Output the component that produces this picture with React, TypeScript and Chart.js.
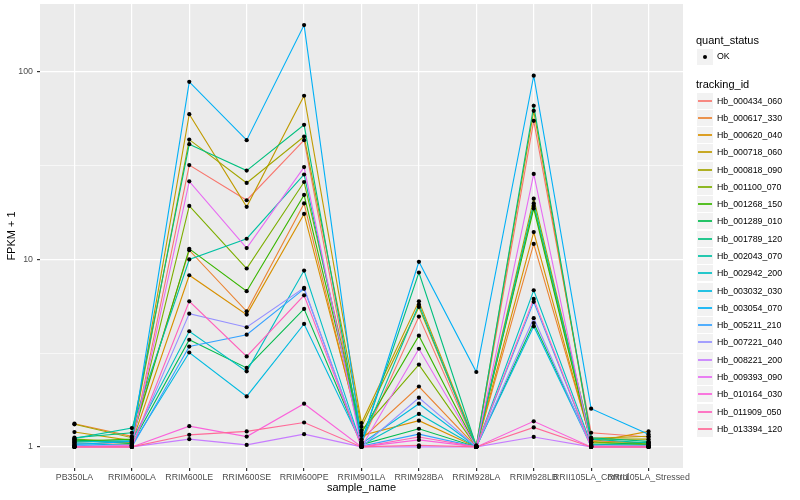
import React, { useEffect, useRef } from "react";
import { Chart, registerables } from "chart.js";
Chart.register(...registerables);

const FONT = "'Liberation Sans', Arial, Helvetica, sans-serif";

const categories = [
  "PB350LA", "RRIM600LA", "RRIM600LE", "RRIM600SE", "RRIM600PE", "RRIM901LA",
  "RRIM928BA", "RRIM928LA", "RRIM928LB", "RRII105LA_Control", "RRII105LA_Stressed",
];

const trackingIds = [
  "Hb_000434_060", "Hb_000617_330", "Hb_000620_040", "Hb_000718_060", "Hb_000818_090",
  "Hb_001100_070", "Hb_001268_150", "Hb_001289_010", "Hb_001789_120", "Hb_002043_070",
  "Hb_002942_200", "Hb_003032_030", "Hb_003054_070", "Hb_005211_210", "Hb_007221_040",
  "Hb_008221_200", "Hb_009393_090", "Hb_010164_030", "Hb_011909_050", "Hb_013394_120",
];

const s000434_060 = [1.05, 1.03, 31.9, 20.7, 43.3, 1.05, 4.96, 1.0, 54.9, 1.19, 1.13];
const s000617_330 = [1.33, 1.14, 11.2, 5.29, 19.9, 1.1, 2.1, 1.0, 12.1, 1.08, 1.05];
const s000620_040 = [1.08, 1.05, 8.24, 5.08, 17.5, 1.15, 1.38, 1.0, 14.0, 1.06, 1.21];
const s000718_060 = [1.2, 1.08, 59.6, 19.1, 74.7, 1.34, 5.98, 1.02, 62.1, 1.11, 1.14];
const s000818_090 = [1.32, 1.12, 43.6, 25.6, 45.3, 1.28, 5.58, 1.01, 21.1, 1.1, 1.1];
const s001100_070 = [1.1, 1.06, 19.3, 8.95, 25.9, 1.22, 2.75, 1.0, 19.3, 1.06, 1.04];
const s001268_150 = [1.07, 1.1, 11.4, 6.77, 22.1, 1.19, 3.92, 1.0, 18.7, 1.04, 1.03];
const s001289_010 = [1.09, 1.04, 3.73, 2.64, 5.45, 1.03, 1.25, 1.0, 4.58, 1.02, 1.06];
const s001789_120 = [1.12, 1.19, 41.2, 29.8, 52.3, 1.07, 8.52, 1.01, 66.1, 1.12, 1.07];
const s002043_070 = [1.11, 1.26, 10.0, 12.9, 28.4, 1.06, 5.75, 1.0, 19.9, 1.1, 1.05];
const s002942_200 = [1.06, 1.08, 4.14, 2.53, 8.73, 1.02, 1.5, 1.0, 6.85, 1.03, 1.02];
const s003032_030 = [1.04, 1.02, 3.19, 1.86, 4.53, 1.04, 1.7, 1.0, 4.4, 1.01, 1.01];
const s003054_070 = [1.03, 1.07, 88.7, 43.3, 178, 1.05, 9.72, 2.51, 95.6, 1.6, 1.17];
const s005211_210 = [1.02, 1.0, 3.43, 3.97, 6.97, 1.01, 1.17, 1.0, 5.94, 1.0, 1.0];
const s007221_040 = [1.01, 1.01, 5.14, 4.35, 7.06, 1.0, 1.83, 1.0, 4.86, 1.0, 1.0];
const s008221_200 = [1.0, 1.0, 1.1, 1.025, 1.17, 1.0, 1.0, 1.0, 1.13, 1.0, 1.0];
const s009393_090 = [1.0, 1.02, 26.1, 11.5, 31.1, 1.0, 3.34, 1.0, 28.6, 1.01, 1.01];
const s010164_030 = [1.0, 1.0, 1.29, 1.135, 1.7, 1.0, 1.09, 1.0, 1.37, 1.0, 1.0];
const s011909_050 = [1.0, 1.0, 5.98, 3.04, 6.44, 1.0, 1.13, 1.0, 6.16, 1.0, 1.0];
const s013394_120 = [1.0, 1.0, 1.16, 1.21, 1.35, 1.0, 1.02, 1.0, 1.27, 1.0, 1.0];

const seriesValues = [
  s000434_060, s000617_330, s000620_040, s000718_060, s000818_090,
  s001100_070, s001268_150, s001289_010, s001789_120, s002043_070,
  s002942_200, s003032_030, s003054_070, s005211_210, s007221_040,
  s008221_200, s009393_090, s010164_030, s011909_050, s013394_120,
];

const yMajorTicks = [1, 10, 100];
const yTickLabels = ["1", "10", "100"];
const quantStatus = ["OK"];

// ggplot2 default hue palette: hcl(h, c = 100, l = 65)
function hcl(h: number, c: number, l: number): string {
  const hr = (h * Math.PI) / 180;
  const U = c * Math.cos(hr);
  const V = c * Math.sin(hr);
  const Xn = 95.047, Yn = 100, Zn = 108.883;
  const Y = l > 8 ? Yn * Math.pow((l + 16) / 116, 3) : (Yn * l) / 903.3;
  const den = Xn + 15 * Yn + 3 * Zn;
  const un = (4 * Xn) / den, vn = (9 * Yn) / den;
  const u = U / (13 * l) + un;
  const v = V / (13 * l) + vn;
  const X = (Y * 9 * u) / (4 * v);
  const Z = (Y * (12 - 3 * u - 20 * v)) / (4 * v);
  const x = X / 100, y = Y / 100, z = Z / 100;
  const lin = [
    3.240479 * x - 1.53715 * y - 0.498535 * z,
    -0.969256 * x + 1.875992 * y + 0.041556 * z,
    0.055648 * x - 0.204043 * y + 1.057311 * z,
  ];
  const out = lin.map((t) => {
    const g = t <= 0.0031308 ? 12.92 * t : 1.055 * Math.pow(t, 1 / 2.4) - 0.055;
    const cl = Math.max(0, Math.min(1, g));
    return Math.round(cl * 255);
  });
  return `rgb(${out[0]},${out[1]},${out[2]})`;
}

const n = trackingIds.length;
const colors = trackingIds.map((_, i) => hcl(15 + (360 / n) * i, 100, 65));

const isMajor = (v: number) => Math.abs(Math.log10(v) - Math.round(Math.log10(v))) < 1e-6;

const bgPlugin = {
  id: "panelBg",
  beforeDraw(chart: any) {
    const { ctx, chartArea } = chart;
    ctx.save();
    ctx.fillStyle = "#EBEBEB";
    ctx.fillRect(chartArea.left, chartArea.top, chartArea.right - chartArea.left, chartArea.bottom - chartArea.top);
    ctx.restore();
  },
};

function ChartCanvas() {
  const ref = useRef<HTMLCanvasElement | null>(null);
  useEffect(() => {
    if (!ref.current) return;
    const all = seriesValues.flat();
    const lmin = Math.log10(Math.min(...all));
    const lmax = Math.log10(Math.max(...all));
    const exp = (lmax - lmin) * 0.05;
    const yMin = Math.pow(10, lmin - exp);
    const yMax = Math.pow(10, lmax + exp);
    const yGrid: number[] = [];
    yMajorTicks.forEach((m, i) => {
      yGrid.push(m);
      if (i < yMajorTicks.length - 1) yGrid.push(Math.sqrt(m * yMajorTicks[i + 1]));
    });

    const lineSets = seriesValues.map((vals, i) => ({
      type: "line" as const,
      label: trackingIds[i],
      data: vals.map((v, j) => ({ x: j + 1, y: v })),
      borderColor: colors[i],
      backgroundColor: colors[i],
      borderWidth: 1.1,
      pointRadius: 0,
      tension: 0,
      fill: false,
      order: 100 - i,
    }));
    const pointSets = seriesValues.map((vals, i) => ({
      type: "line" as const,
      label: trackingIds[i] + " " + quantStatus[0],
      data: vals.map((v, j) => ({ x: j + 1, y: v })),
      showLine: false,
      pointRadius: 2.1,
      pointBackgroundColor: "#000000",
      pointBorderWidth: 0,
      pointHoverRadius: 0,
      order: 0,
    }));

    const chart = new Chart(ref.current, {
      type: "line",
      data: { datasets: [...lineSets, ...pointSets] as any },
      plugins: [bgPlugin],
      options: {
        animation: false,
        responsive: false,
        maintainAspectRatio: false,
        layout: { padding: { left: 0, right: 117, top: 4, bottom: 0 } },
        plugins: { legend: { display: false }, tooltip: { enabled: false } },
        events: [],
        scales: {
          x: {
            type: "linear",
            min: 0.4,
            max: categories.length + 0.6,
            afterBuildTicks: (s: any) => {
              s.ticks = categories.map((_, i) => ({ value: i + 1 }));
            },
            afterFit: (s: any) => {
              s.height = 32;
              s.paddingLeft = 0;
              s.paddingRight = 0;
            },
            ticks: {
              callback: (v: any) => categories[Math.round(Number(v)) - 1] ?? "",
              autoSkip: false,
              maxRotation: 0,
              minRotation: 0,
              color: "#4D4D4D",
              font: { size: 8.8, family: FONT },
              padding: 1,
            },
            grid: { color: "#FFFFFF", lineWidth: 1.2, tickColor: "#333333", tickLength: 3 },
            border: { display: false },
            title: {
              display: true,
              text: "sample_name",
              color: "#000000",
              font: { size: 11, family: FONT },
              padding: { top: 0, bottom: 5 },
            },
          },
          y: {
            type: "logarithmic",
            min: yMin,
            max: yMax,
            afterBuildTicks: (s: any) => {
              s.ticks = yGrid.map((v) => ({ value: v, major: isMajor(v) }));
            },
            afterFit: (s: any) => {
              s.width = 40;
              s.paddingTop = 0;
              s.paddingBottom = 0;
            },
            ticks: {
              callback: (v: any) => {
                const idx = yMajorTicks.findIndex((m) => Math.abs(m - Number(v)) < 1e-9);
                return idx >= 0 ? yTickLabels[idx] : "";
              },
              autoSkip: false,
              color: "#4D4D4D",
              font: { size: 8.8, family: FONT },
              padding: 4,
            },
            grid: {
              color: "#FFFFFF",
              lineWidth: (ctx: any) => (ctx.tick && isMajor(ctx.tick.value) ? 1.2 : 0.6),
              tickColor: (ctx: any) => (ctx.tick && isMajor(ctx.tick.value) ? "#333333" : "rgba(0,0,0,0)"),
              tickLength: 3,
            },
            border: { display: false },
            title: {
              display: true,
              text: "FPKM + 1",
              color: "#000000",
              font: { size: 11, family: FONT },
              padding: { top: 5, bottom: 0 },
            },
          },
        },
      } as any,
    });
    return () => chart.destroy();
  }, []);
  return <canvas ref={ref} width={800} height={500} style={{ width: 800, height: 500, display: "block" }} />;
}

function Legend() {
  const left = 696;
  const step = 17.28;
  const firstTop = 92.5;
  return (
    <div style={{ position: "absolute", left: 0, top: 0, width: 800, height: 500, pointerEvents: "none", fontFamily: FONT }}>
      <div style={{ position: "absolute", left, top: 33, fontSize: 11, lineHeight: "14px", color: "#000" }}>quant_status</div>
      {quantStatus.map((q, i) => (
        <React.Fragment key={q}>
          <div style={{ position: "absolute", left: left + 1, top: 49 + i * 17, width: 16, height: 16, background: "#F2F2F2" }}>
            <div style={{ position: "absolute", left: 6, top: 6, width: 4, height: 4, borderRadius: "50%", background: "#000" }} />
          </div>
          <div style={{ position: "absolute", left: left + 21, top: 50 + i * 17, fontSize: 8.8, lineHeight: "13px", color: "#000" }}>{q}</div>
        </React.Fragment>
      ))}
      <div style={{ position: "absolute", left, top: 77, fontSize: 11, lineHeight: "14px", color: "#000" }}>tracking_id</div>
      {trackingIds.map((id, i) => {
        const top = Math.round(firstTop + i * step);
        return (
          <React.Fragment key={id}>
            <div style={{ position: "absolute", left: left + 1, top, width: 16, height: 16, background: "#F2F2F2" }} />
            <div style={{ position: "absolute", left: left + 2, top: top + 7, width: 14, height: 2, background: colors[i], opacity: 0.85 }} />
            <div style={{ position: "absolute", left: left + 21, top: top + 2, fontSize: 8.8, lineHeight: "13px", color: "#000", whiteSpace: "nowrap" }}>{id}</div>
          </React.Fragment>
        );
      })}
    </div>
  );
}

export default function App() {
  return (
    <div style={{ position: "fixed", left: 0, top: 0, width: 800, height: 500, background: "#FFFFFF" }}>
      <ChartCanvas />
      <Legend />
    </div>
  );
}
